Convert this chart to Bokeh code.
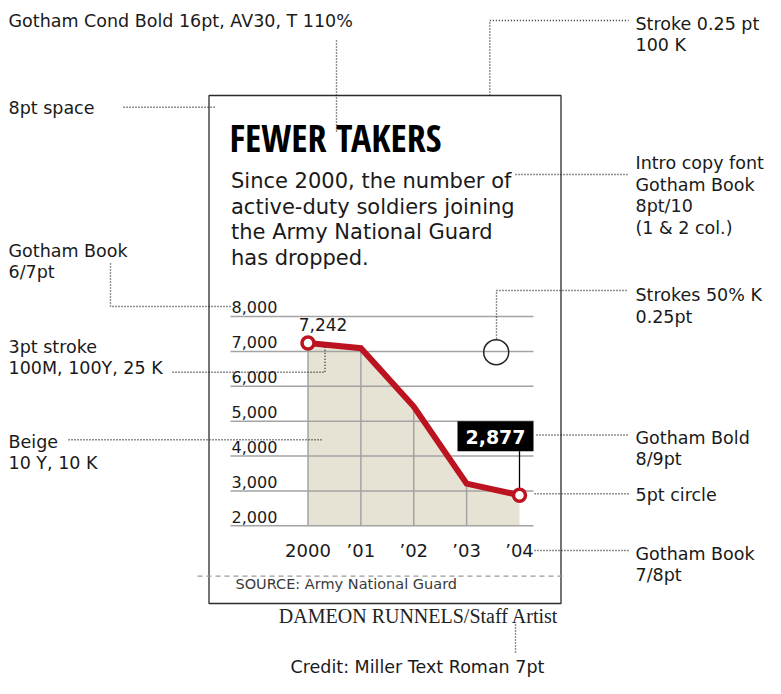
from bokeh.plotting import figure
from bokeh.models import Range1d
from bokeh.core.properties import value
from bokeh.embed import file_html
from bokeh.resources import INLINE

# ---------------- data ----------------
years = [2000, 2001, 2002, 2003, 2004]
soldiers = [7242, 7090, 5420, 3210, 2877]
y_ticks = [2000, 3000, 4000, 5000, 6000, 7000, 8000]
y_tick_labels = ["2,000", "3,000", "4,000", "5,000", "6,000", "7,000", "8,000"]
x_tick_labels = ["2000", "\u201901", "\u201902", "\u201903", "\u201904"]
title_text = "FEWER TAKERS"
intro_lines = ["Since 2000, the number of",
               "active-duty soldiers joining",
               "the Army National Guard",
               "has dropped."]
source_text = "SOURCE: Army National Guard"
credit_text = "DAMEON RUNNELS/Staff Artist"

# ---------------- layout (canvas pixel space) ----------------
W, H = 765, 678
X0, X1 = 307.5, 519.0            # pixel of first / last year
DX = (X1 - X0) / (years[-1] - years[0])
YB = 525.3                        # pixel of lowest tick
SY = (525.3 - 316.0) / (y_ticks[-1] - y_ticks[0])   # px per unit


def px(yr):
    return X0 + (yr - years[0]) * DX


def py(v):
    return YB - (v - y_ticks[0]) * SY


def mid(baseline, fs):
    # text is placed by its middle; convert from a baseline position
    return baseline - 0.3 * fs


SANS = value("DejaVu Sans")
NARROW = value("'Liberation Sans Narrow', 'Noto Sans Condensed', 'Noto Sans ExtraCondensed', "
               "'Open Sans Condensed', 'DejaVu Sans Condensed', 'Roboto Condensed', 'Liberation Sans'")
SERIF = value("'Liberation Serif', 'DejaVu Serif', serif")

p = figure(width=W, height=H, x_range=Range1d(0, W), y_range=Range1d(H, 0),
           output_backend="svg", toolbar_location=None, min_border=0,
           x_axis_type=None, y_axis_type=None, title=None)
p.outline_line_color = None
p.background_fill_color = "white"
p.border_fill_color = "white"

p.extra_x_ranges = {"yr": Range1d(start=years[0] + (0 - X0) / DX,
                                  end=years[0] + (W - X0) / DX)}
p.extra_y_ranges = {"val": Range1d(start=y_ticks[0] + (YB - H) / SY,
                                   end=y_ticks[0] + (YB - 0) / SY)}

RED = "#bb1420"
GRID = "#a3a3a3"
INK = "#1a1a1a"

# chart frame
p.quad(left=[208.5], right=[560.5], top=[95], bottom=[603], fill_alpha=0,
       line_color="#2b2b2b", line_width=1.3)
# dashed guide
p.line([197, 564], [575.7, 575.7], line_dash="5 4", line_color="#9a9a9a", line_width=1.2)

# beige area
p.varea(x=years, y1=[y_ticks[0]] * len(years), y2=soldiers, fill_color="#e6e3d4",
        x_range_name="yr", y_range_name="val")
# vertical grid inside area
p.segment(x0=years[:-1], y0=[y_ticks[0]] * (len(years) - 1), x1=years[:-1],
          y1=soldiers[:-1], line_color=GRID, line_width=1.5,
          x_range_name="yr", y_range_name="val")
# horizontal grid
p.segment(x0=[230] * len(y_ticks), x1=[533] * len(y_ticks), y0=y_ticks, y1=y_ticks,
          line_color=GRID, line_width=1.5, y_range_name="val")

# data line
p.line(years, soldiers, line_width=6, line_color=RED, line_join="miter",
       x_range_name="yr", y_range_name="val")

# callout box for last value
bx_l, bx_r = px(years[-1]) - 62, px(years[-1]) + 14
bx_t, bx_b = py(soldiers[-1]) - 74, py(soldiers[-1]) - 44
p.segment(x0=[px(years[-1])], y0=[py(soldiers[-1])], x1=[px(years[-1])], y1=[bx_b],
          line_color="black", line_width=1.3)
p.quad(left=[bx_l], right=[bx_r], top=[bx_t], bottom=[bx_b], fill_color="black", line_color=None)
p.text(x=[(bx_l + bx_r) / 2], y=[(bx_t + bx_b) / 2 + 1], text=[f"{soldiers[-1]:,}"],
       text_color="white", text_font=SANS, text_font_style="bold", text_font_size="19px",
       text_align="center", text_baseline="middle")

# end circles
p.scatter(x=[years[0], years[-1]], y=[soldiers[0], soldiers[-1]], size=12,
          fill_color="white", line_color=RED, line_width=3.5,
          x_range_name="yr", y_range_name="val")

# first value label
p.text(x=[px(years[0]) + 15], y=[mid(py(soldiers[0]) - 13, 17)], text=[f"{soldiers[0]:,}"],
       text_color=INK, text_font=SANS, text_font_size="17px",
       text_align="center", text_baseline="middle")

# y tick labels
p.text(x=[231] * len(y_ticks), y=[v + (4.5 + 0.3 * 16) / SY for v in y_ticks], text=y_tick_labels,
       text_color=INK, text_font=SANS, text_font_size="16px",
       text_align="left", text_baseline="middle", y_range_name="val")
# x tick labels
p.text(x=years, y=[mid(555, 18)] * len(years), text=x_tick_labels,
       text_color=INK, text_font=SANS, text_font_size="18px",
       text_align="center", text_baseline="middle", x_range_name="yr")

# sample stroke circle
p.scatter(x=[495.7], y=[351.7], size=25, fill_alpha=0, line_color="#222222", line_width=1.5)

# title and intro
p.text(x=[229], y=[mid(147.5, 38)], text=[title_text], text_color="black", text_font=NARROW,
       text_font_style="bold", text_font_size="38px", text_baseline="middle")
p.text(x=[230.5] * len(intro_lines), y=[mid(b, 21) for b in [187, 212.5, 238, 263.5]],
       text=intro_lines, text_color=INK, text_font=SANS, text_font_size="21px",
       text_baseline="middle")

# source & credit
p.text(x=[235], y=[mid(588.3, 14.5)], text=[source_text], text_color="#3a3a3a", text_font=SANS,
       text_font_size="14.5px", text_baseline="middle")
p.text(x=[558], y=[mid(621.7, 20)], text=[credit_text], text_color="#222222", text_font=SERIF,
       text_font_size="20px", text_align="right", text_baseline="middle")

# annotation texts
RX = 635
notes = [
    (8, 26, "Gotham Cond Bold 16pt, AV30, T 110%"),
    (8, 113, "8pt space"),
    (RX, 28.3, "Stroke 0.25 pt"), (RX, 50, "100 K"),
    (RX, 168, "Intro copy font"), (RX, 189.5, "Gotham Book"),
    (RX, 211, "8pt/10"), (RX, 232.5, "(1 & 2 col.)"),
    (RX, 300, "Strokes 50% K"), (RX, 321.7, "0.25pt"),
    (8, 256, "Gotham Book"), (8, 277, "6/7pt"),
    (8, 351.7, "3pt stroke"), (8, 372.7, "100M, 100Y, 25 K"),
    (8, 446.7, "Beige"), (8, 467.7, "10 Y, 10 K"),
    (RX, 442.7, "Gotham Bold"), (RX, 464, "8/9pt"),
    (RX, 500, "5pt circle"),
    (RX, 558.3, "Gotham Book"), (RX, 580, "7/8pt"),
    (290, 672, "Credit: Miller Text Roman 7pt"),
]
p.text(x=[n[0] for n in notes], y=[mid(n[1], 17.5) for n in notes], text=[n[2] for n in notes],
       text_color=INK, text_font=SANS, text_font_size="17.5px", text_baseline="middle")

# dotted leader lines
LE = RX - 7
leaders = [
    ([336, 336], [40, 131]),
    ([123, 216], [106.7, 106.7]),
    ([489.3, 489.3, LE], [95, 20, 20]),
    ([515, LE], [174, 174]),
    ([496, 496, LE], [338, 290, 290]),
    ([110, 110, 231], [263, 306, 306]),
    ([172, 324.5, 324.5], [371.7, 371.7, 345]),
    ([68, 322], [439.3, 439.3]),
    ([536, LE], [434.5, 434.5]),
    ([534, LE], [493.3, 493.3]),
    ([534, LE], [550, 550]),
    ([515, 515], [624, 652]),
]
p.multi_line(xs=[l[0] for l in leaders], ys=[l[1] for l in leaders],
             line_color="#222222", line_width=1.4, line_dash="1 2")

open("out.html", "w").write(file_html(p, INLINE))
